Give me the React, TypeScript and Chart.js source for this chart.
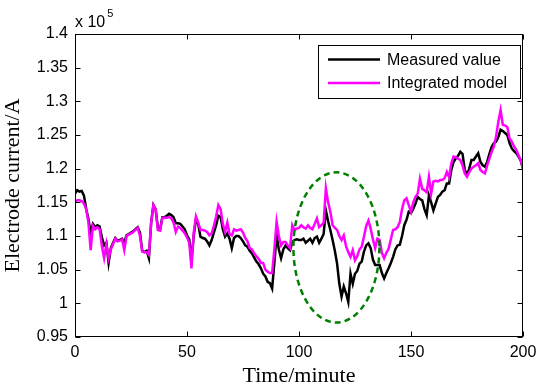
import React, { useEffect, useRef } from "react";
import { Chart, registerables } from "chart.js";

Chart.register(...registerables);

const MINUTES: number[] = Array.from({ length: 201 }, (_, i) => i);

const MEASURED: number[] = [
  1.163, 1.168, 1.166, 1.167, 1.16, 1.14, 1.125, 1.104, 1.118, 1.113,
  1.116, 1.114, 1.098, 1.086, 1.09, 1.06, 1.082, 1.09, 1.097, 1.093,
  1.094, 1.096, 1.09, 1.101, 1.103, 1.105, 1.107, 1.11, 1.113, 1.105,
  1.078, 1.076, 1.078, 1.067, 1.12, 1.146, 1.14, 1.112, 1.11, 1.128,
  1.128, 1.13, 1.133, 1.131, 1.128, 1.119, 1.119, 1.118, 1.114, 1.11,
  1.101, 1.095, 1.064, 1.1, 1.125, 1.118, 1.099, 1.097, 1.096, 1.092,
  1.086, 1.094, 1.105, 1.116, 1.13, 1.128, 1.11, 1.099, 1.104, 1.096,
  1.082, 1.097, 1.1, 1.1, 1.097, 1.092, 1.086, 1.084, 1.078, 1.074,
  1.068, 1.062, 1.058, 1.052, 1.044, 1.04, 1.032, 1.03, 1.022, 1.06,
  1.101, 1.08, 1.067, 1.08, 1.086, 1.082, 1.079, 1.091, 1.094, 1.095,
  1.094, 1.094, 1.096, 1.09, 1.093, 1.096, 1.09, 1.097, 1.099, 1.09,
  1.096, 1.103, 1.138, 1.122, 1.109, 1.094, 1.078, 1.059, 1.029, 1.01,
  1.025, 1.015, 1.002, 1.044, 1.029, 1.044, 1.048, 1.059, 1.062, 1.077,
  1.086, 1.089, 1.082, 1.065, 1.057, 1.057, 1.057, 1.045, 1.037, 1.045,
  1.052, 1.06, 1.069, 1.08, 1.086, 1.087, 1.1, 1.116, 1.124, 1.136,
  1.134, 1.14, 1.148, 1.158, 1.155, 1.153, 1.14, 1.131, 1.16, 1.15,
  1.138, 1.148, 1.158, 1.161, 1.166, 1.168, 1.178, 1.178, 1.198, 1.21,
  1.215, 1.219, 1.225, 1.222, 1.198, 1.191, 1.2, 1.213, 1.213, 1.218,
  1.223, 1.21, 1.205, 1.203, 1.21, 1.222, 1.232, 1.238, 1.24, 1.247,
  1.258, 1.256, 1.253, 1.25, 1.238, 1.23, 1.226, 1.223, 1.218, 1.212,
  1.2,
];

const INTEGRATED: number[] = [
  1.15, 1.153, 1.153, 1.152, 1.148, 1.14, 1.12, 1.079, 1.115, 1.11,
  1.113, 1.11, 1.085, 1.067, 1.088, 1.067, 1.08, 1.088, 1.096, 1.092,
  1.093, 1.095, 1.079, 1.1, 1.102, 1.104, 1.106, 1.109, 1.112, 1.1,
  1.077, 1.076, 1.076, 1.072, 1.12, 1.146, 1.14, 1.109, 1.108, 1.127,
  1.127, 1.127, 1.128, 1.126, 1.12, 1.106, 1.114, 1.112, 1.108, 1.104,
  1.098, 1.09, 1.052, 1.105, 1.129, 1.12, 1.109, 1.109, 1.108, 1.106,
  1.101, 1.104, 1.115, 1.129, 1.146, 1.14, 1.118, 1.106, 1.12, 1.103,
  1.101, 1.11, 1.108, 1.109, 1.11, 1.105, 1.097, 1.092, 1.082, 1.08,
  1.074, 1.07, 1.066, 1.06, 1.06, 1.05, 1.047, 1.045, 1.045, 1.08,
  1.121, 1.1, 1.086, 1.091, 1.091, 1.086, 1.082, 1.116, 1.109, 1.111,
  1.112, 1.116, 1.113, 1.111, 1.116, 1.112, 1.11, 1.118, 1.126, 1.113,
  1.116, 1.12, 1.171, 1.15, 1.136, 1.116, 1.112, 1.109, 1.1, 1.094,
  1.101, 1.085, 1.076, 1.069, 1.079, 1.064, 1.07, 1.08, 1.084, 1.099,
  1.115, 1.123, 1.111, 1.095, 1.082, 1.096, 1.094, 1.075, 1.067, 1.075,
  1.081, 1.095, 1.109, 1.11, 1.113, 1.121, 1.14, 1.153, 1.156, 1.146,
  1.136, 1.15, 1.158, 1.163, 1.185, 1.17, 1.168, 1.165, 1.188, 1.163,
  1.181, 1.182, 1.181, 1.183, 1.183, 1.186, 1.195, 1.187, 1.208, 1.218,
  1.217, 1.215, 1.213, 1.205, 1.193, 1.188, 1.195, 1.2, 1.203, 1.205,
  1.208, 1.198, 1.195, 1.193, 1.205, 1.215, 1.225, 1.233, 1.248, 1.27,
  1.287, 1.265, 1.264, 1.262, 1.245, 1.24, 1.233, 1.228, 1.22, 1.212,
  1.2,
];

const SERIES_NAMES = ["Measured value", "Integrated model"];
const X_TICKS = [0, 50, 100, 150, 200];
const Y_TICKS = [0.95, 1, 1.05, 1.1, 1.15, 1.2, 1.25, 1.3, 1.35, 1.4];
const Y_TICK_LABELS = ["0.95", "1", "1.05", "1.1", "1.15", "1.2", "1.25", "1.3", "1.35", "1.4"];
const X_TITLE = "Time/minute";
const Y_TITLE = "Electrode current/A";
const EXPONENT_BASE = "x 10";
const EXPONENT_POWER = "5";
// highlighted region (data coordinates): centre minute, centre value, half-width (min), half-height
const HIGHLIGHT = { t: 116.7, v: 1.083, dt: 19.2, dv: 0.1115 };

const BLACK = "#000000";
const MAGENTA = "#ff00ff";
const GREEN = "#008000";
const SANS = "'Liberation Sans', Arial, sans-serif";
const SERIF = "'Liberation Serif', 'Times New Roman', serif";

const framePlugin = {
  id: "matlabFrame",
  afterDatasetsDraw(chart: any) {
    const { ctx, chartArea: a } = chart;
    const xs = chart.scales.x;
    const ys = chart.scales.y;

    // dashed ellipse
    const cx = xs.getPixelForValue(HIGHLIGHT.t);
    const cy = ys.getPixelForValue(HIGHLIGHT.v);
    const rx = xs.getPixelForValue(HIGHLIGHT.t + HIGHLIGHT.dt) - cx;
    const ry = cy - ys.getPixelForValue(HIGHLIGHT.v + HIGHLIGHT.dv);
    ctx.save();
    ctx.setLineDash([6, 4]);
    ctx.lineWidth = 2.5;
    ctx.strokeStyle = GREEN;
    ctx.beginPath();
    ctx.ellipse(cx, cy, rx, ry, 0, 0, Math.PI * 2);
    ctx.stroke();
    ctx.restore();

    // box and inward ticks
    ctx.save();
    ctx.strokeStyle = BLACK;
    ctx.lineWidth = 1;
    const L = Math.round(a.left) + 0.5;
    const R = Math.round(a.right) - 0.5;
    const T = Math.round(a.top) + 0.5;
    const B = Math.round(a.bottom) - 0.5;
    ctx.strokeRect(L, T, R - L, B - T);
    const tl = 5;
    ctx.beginPath();
    X_TICKS.forEach((v) => {
      const px = Math.round(xs.getPixelForValue(v)) + 0.5;
      ctx.moveTo(px, B);
      ctx.lineTo(px, B - tl);
      ctx.moveTo(px, T);
      ctx.lineTo(px, T + tl);
    });
    Y_TICKS.forEach((v) => {
      const py = Math.round(ys.getPixelForValue(v)) + 0.5;
      ctx.moveTo(L, py);
      ctx.lineTo(L + tl, py);
      ctx.moveTo(R, py);
      ctx.lineTo(R - tl, py);
    });
    ctx.stroke();

    // exponent label
    ctx.fillStyle = BLACK;
    ctx.textAlign = "left";
    ctx.textBaseline = "alphabetic";
    ctx.font = `16px ${SANS}`;
    const bx = a.left;
    ctx.fillText(EXPONENT_BASE, bx, a.top - 7);
    const w = ctx.measureText(EXPONENT_BASE).width;
    ctx.font = `11px ${SANS}`;
    ctx.fillText(EXPONENT_POWER, bx + w + 2, a.top - 17);

    // legend
    const lx = 318.5, ly = 45.5, lw = 202, lh = 53;
    ctx.fillStyle = "#ffffff";
    ctx.fillRect(lx, ly, lw, lh);
    ctx.strokeRect(lx, ly, lw, lh);
    const colors = [BLACK, MAGENTA];
    const rows = [59.5, 83];
    ctx.font = `16px ${SANS}`;
    ctx.textBaseline = "middle";
    SERIES_NAMES.forEach((name, i) => {
      ctx.strokeStyle = colors[i];
      ctx.lineWidth = 2.5;
      ctx.beginPath();
      ctx.moveTo(328, rows[i]);
      ctx.lineTo(380, rows[i]);
      ctx.stroke();
      ctx.fillStyle = BLACK;
      ctx.fillText(name, 387, rows[i] + 1);
    });
    ctx.restore();
  },
};

export default function App() {
  const ref = useRef<HTMLCanvasElement | null>(null);

  useEffect(() => {
    if (!ref.current) return;
    const chart = new Chart(ref.current, {
      type: "line",
      data: {
        labels: MINUTES,
        datasets: [
          {
            label: SERIES_NAMES[0],
            data: MINUTES.map((t, i) => ({ x: t, y: MEASURED[i] })),
            borderColor: BLACK,
            borderWidth: 2.5,
            pointRadius: 0,
            tension: 0,
            order: 2,
          },
          {
            label: SERIES_NAMES[1],
            data: MINUTES.map((t, i) => ({ x: t, y: INTEGRATED[i] })),
            borderColor: MAGENTA,
            borderWidth: 2.5,
            pointRadius: 0,
            tension: 0,
            order: 1,
          },
        ],
      },
      options: {
        responsive: false,
        animation: false,
        events: [],
        layout: { padding: { top: 34, right: 14, left: 0, bottom: 0 } },
        plugins: {
          legend: { display: false },
          tooltip: { enabled: false },
          title: { display: false },
        },
        scales: {
          x: {
            type: "linear",
            min: 0,
            max: 200,
            grid: { display: false, drawTicks: false },
            border: { display: false },
            afterBuildTicks: (s: any) => {
              s.ticks = X_TICKS.map((v) => ({ value: v }));
            },
            afterFit: (s: any) => {
              s.height = 52;
              s.paddingLeft = 0;
              s.paddingRight = 0;
            },
            ticks: {
              color: BLACK,
              padding: 6,
              maxRotation: 0,
              font: { family: SANS, size: 16 },
              callback: (v: any) => String(v),
            },
            title: {
              display: true,
              text: X_TITLE,
              color: BLACK,
              padding: 0,
              font: { family: SERIF, size: 22 },
            },
          },
          y: {
            type: "linear",
            min: 0.95,
            max: 1.4,
            grid: { display: false, drawTicks: false },
            border: { display: false },
            afterBuildTicks: (s: any) => {
              s.ticks = Y_TICKS.map((v) => ({ value: v }));
            },
            afterFit: (s: any) => {
              s.width = 75;
              s.paddingTop = 0;
              s.paddingBottom = 0;
            },
            ticks: {
              color: BLACK,
              padding: 7,
              font: { family: SANS, size: 16 },
              callback: (_v: any, i: number) => Y_TICK_LABELS[i],
            },
            title: {
              display: true,
              text: Y_TITLE,
              color: BLACK,
              padding: 0,
              font: { family: SERIF, size: 22 },
            },
          },
        },
      },
      plugins: [framePlugin],
    } as any);
    return () => chart.destroy();
  }, []);

  return (
    <div style={{ position: "fixed", left: 0, top: 0, width: 537, height: 389, background: "#fff" }}>
      <canvas ref={ref} width={537} height={389} style={{ width: 537, height: 389, display: "block" }} />
    </div>
  );
}
